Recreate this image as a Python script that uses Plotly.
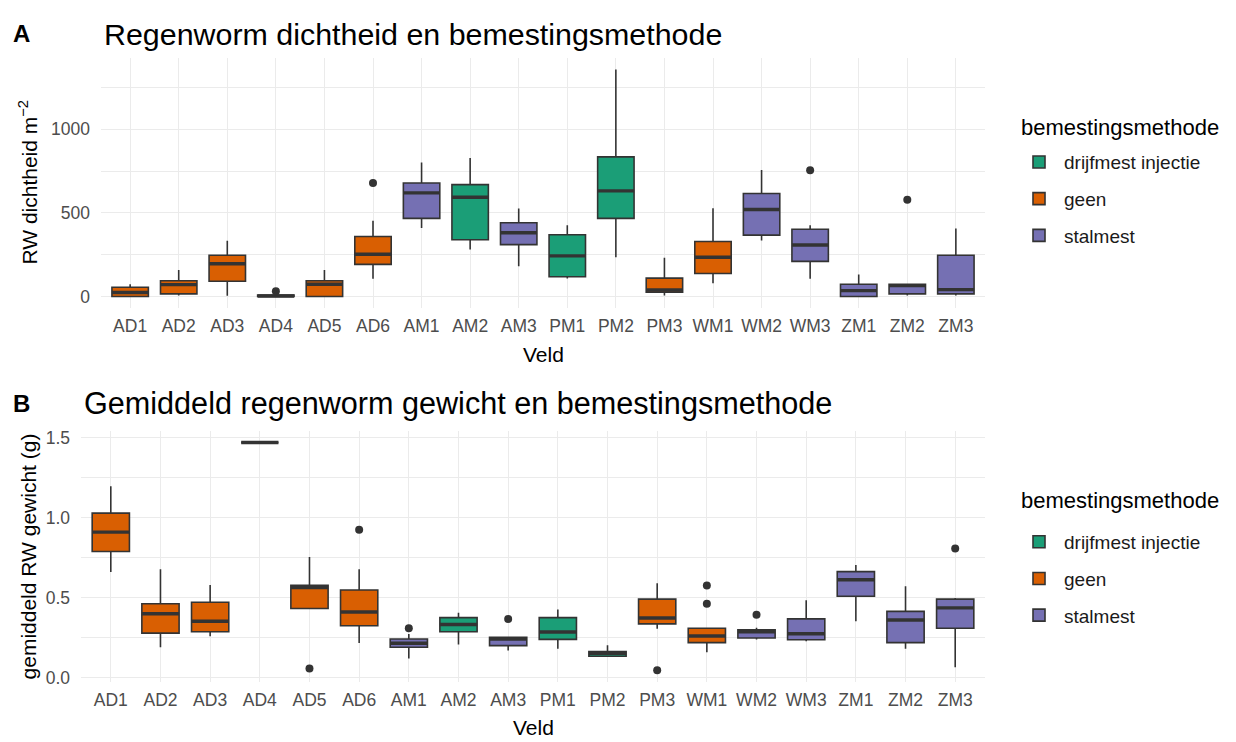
import plotly.graph_objects as go

# Fields (Veld) and fertilisation method per field
velden = ["AD1", "AD2", "AD3", "AD4", "AD5", "AD6", "AM1", "AM2", "AM3",
          "PM1", "PM2", "PM3", "WM1", "WM2", "WM3", "ZM1", "ZM2", "ZM3"]
methode = ["geen", "geen", "geen", "geen", "geen", "geen",
           "stalmest", "drijfmest injectie", "stalmest",
           "drijfmest injectie", "drijfmest injectie", "geen",
           "geen", "stalmest", "stalmest",
           "stalmest", "stalmest", "stalmest"]
methoden = ["drijfmest injectie", "geen", "stalmest"]
kleuren = {"drijfmest injectie": "#1B9E77", "geen": "#D95F02", "stalmest": "#7570B3"}

# Panel A: earthworm density (per m2) - box statistics per field
dicht_q1 = [0, 16, 91, 0, 0, 192, 467, 339, 310, 118, 467, 26, 138, 367, 210, 0, 16, 16]
dicht_med = [24, 71, 196, 3, 73, 253, 620, 594, 381, 243, 632, 39, 235, 520, 308, 35, 65, 41]
dicht_q3 = [55, 94, 247, 8, 94, 359, 679, 669, 441, 369, 835, 110, 329, 616, 402, 73, 73, 247]
dicht_lo = [0, 6, 4, 0, 0, 106, 410, 281, 181, 108, 235, 6, 79, 335, 106, 0, 6, 6]
dicht_hi = [73, 159, 333, 10, 159, 453, 802, 829, 526, 426, 1357, 232, 528, 757, 426, 132, 73, 406]
dicht_uitschieter_veld = ["AD4", "AD6", "WM3", "ZM2"]
dicht_uitschieter = [32, 679, 755, 579]

# Panel B: mean earthworm weight (g) - box statistics per field
gew_q1 = [0.788, 0.279, 0.288, 1.468, 0.433, 0.325, 0.191, 0.288, 0.201,
          0.240, 0.135, 0.337, 0.220, 0.249, 0.238, 0.509, 0.220, 0.310]
gew_med = [0.909, 0.400, 0.353, 1.468, 0.563, 0.411, 0.216, 0.333, 0.243,
           0.286, 0.154, 0.374, 0.261, 0.288, 0.275, 0.612, 0.361, 0.437]
gew_q3 = [1.028, 0.462, 0.472, 1.468, 0.577, 0.548, 0.243, 0.376, 0.253,
          0.376, 0.164, 0.491, 0.310, 0.300, 0.368, 0.663, 0.415, 0.491]
gew_lo = [0.661, 0.191, 0.259, 1.468, 0.433, 0.218, 0.121, 0.209, 0.171,
          0.181, 0.135, 0.306, 0.160, 0.240, 0.228, 0.353, 0.181, 0.066]
gew_hi = [1.195, 0.677, 0.579, 1.468, 0.754, 0.677, 0.273, 0.406, 0.253,
          0.427, 0.203, 0.591, 0.310, 0.312, 0.485, 0.704, 0.571, 0.499]
gew_uitschieter_veld = ["AD5", "AD6", "AM1", "AM3", "PM3", "WM1", "WM1", "WM2", "ZM3"]
gew_uitschieter = [0.058, 0.924, 0.310, 0.368, 0.047, 0.577, 0.462, 0.394, 0.807]

FONT = "Liberation Sans, Arial, sans-serif"
LINE = "#333333"
GRID = "#EBEBEB"
W, H = 1236, 742
BOXW = 0.75

fig = go.Figure()


def panel(q1, med, q3, lo, hi, ol_veld, ol_val, xa, ya, legend):
    pos = list(range(len(velden)))
    for m in methoden:
        idx = [i for i in pos if methode[i] == m]
        fig.add_trace(go.Box(
            x=idx,
            q1=[q1[i] for i in idx], median=[med[i] for i in idx],
            q3=[q3[i] for i in idx], lowerfence=[lo[i] for i in idx],
            upperfence=[hi[i] for i in idx],
            name=m, legend=legend, legendgroup=legend + m,
            fillcolor=kleuren[m], line=dict(color=LINE, width=1.6),
            width=BOXW, whiskerwidth=0, boxpoints=False,
            xaxis=xa, yaxis=ya,
        ))
    # thicker median bars on top of the boxes
    mx, my = [], []
    for i in pos:
        mx += [i - BOXW / 2, i + BOXW / 2, None]
        my += [med[i], med[i], None]
    fig.add_trace(go.Scatter(x=mx, y=my, mode="lines", showlegend=False,
                             line=dict(color=LINE, width=3.4), hoverinfo="skip",
                             xaxis=xa, yaxis=ya))
    fig.add_trace(go.Scatter(x=[velden.index(v) for v in ol_veld], y=ol_val,
                             mode="markers", showlegend=False,
                             marker=dict(color=LINE, size=8),
                             xaxis=xa, yaxis=ya))
    vals = lo + hi + ol_val
    lo_v, hi_v = min(vals), max(vals)
    pad = 0.05 * (hi_v - lo_v)
    return [lo_v - pad, hi_v + pad]


yr_a = panel(dicht_q1, dicht_med, dicht_q3, dicht_lo, dicht_hi,
             dicht_uitschieter_veld, dicht_uitschieter, "x", "y", "legend")
yr_b = panel(gew_q1, gew_med, gew_q3, gew_lo, gew_hi,
             gew_uitschieter_veld, gew_uitschieter, "x2", "y2", "legend2")


def xaxis(left, right, anchor):
    return dict(domain=[left / W, right / W], anchor=anchor, range=[-0.6, 17.6],
                tickvals=list(range(len(velden))), ticktext=velden,
                showgrid=True, gridcolor=GRID, gridwidth=1.3, zeroline=False,
                showline=False, ticks="", ticklabelstandoff=6,
                tickfont=dict(family=FONT, size=17.5, color="#4D4D4D"))


def yaxis(top, bottom, anchor, rng, major, minor, fmt):
    return dict(domain=[1 - bottom / H, 1 - top / H], anchor=anchor, range=rng,
                tickvals=major, tickformat=fmt, showgrid=True, gridcolor=GRID,
                gridwidth=1.3,
                minor=dict(tickvals=minor, showgrid=True, gridcolor=GRID, gridwidth=0.7),
                zeroline=False, showline=False, ticks="", ticklabelstandoff=10,
                tickfont=dict(family=FONT, size=17.5, color="#4D4D4D"))


legend_common = dict(xanchor="left", yanchor="top", bgcolor="rgba(0,0,0,0)",
                     font=dict(family=FONT, size=19, color="#1A1A1A"),
                     itemwidth=40, tracegroupgap=9, traceorder="grouped")

fig.update_layout(
    width=W, height=H, margin=dict(l=0, r=0, t=0, b=0),
    plot_bgcolor="white", paper_bgcolor="white",
    font=dict(family=FONT),
    boxmode="overlay",
    xaxis=xaxis(101, 985, "y"),
    yaxis=yaxis(55, 308, "x", yr_a, [0, 500, 1000], [250, 750, 1250], "d"),
    xaxis2=xaxis(81, 985, "y2"),
    yaxis2=yaxis(433, 687, "x2", yr_b, [0, 0.5, 1.0, 1.5], [0.25, 0.75, 1.25], ".1f"),
    legend=dict(x=1014 / W, y=1 - 141 / H, **legend_common),
    legend2=dict(x=1014 / W, y=1 - 526 / H, **legend_common),
)

# panel tags, titles, axis titles and legend titles
texts = [
    ("<b>A</b>", 11, 30, 24, "left", 0),
    ("Regenworm dichtheid en bemestingsmethode", 102, 30, 30.4, "left", 0),
    ("<b>B</b>", 11, 405, 24, "left", 0),
    ("Gemiddeld regenworm gewicht en bemestingsmethode", 82, 405, 30.6, "left", 0),
    ("Veld", 543, 355, 21, "center", 0),
    ("Veld", 533, 733, 21, "center", 0),
    ("RW dichtheid m<sup>−2</sup>", 28, 181, 21, "center", -90),
    ("gemiddeld RW gewicht (g)", 28, 560, 21, "center", -90),
    ("bemestingsmethode", 1019, 125, 22, "left", 0),
    ("bemestingsmethode", 1019, 503, 22, "left", 0),
]
for txt, x, y, size, anchor, angle in texts:
    fig.add_annotation(text=txt, x=x / W, y=1 - y / H, xref="paper", yref="paper",
                       xanchor=anchor, yanchor="middle", showarrow=False,
                       textangle=angle, font=dict(family=FONT, size=size, color="black"))

fig.write_html("out.html")
